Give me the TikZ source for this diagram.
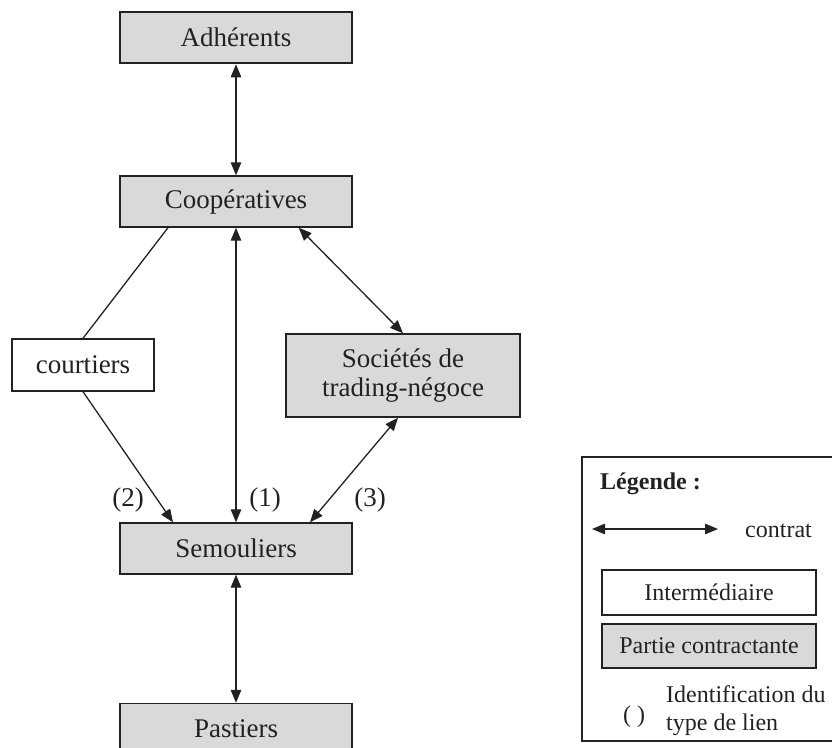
\documentclass[tikz,border=0pt]{standalone}
\usepackage{fontspec}
\setmainfont{Liberation Serif}
\usetikzlibrary{arrows.meta}
\definecolor{boxgray}{HTML}{D9D9D9}
\definecolor{ink}{HTML}{222222}
\tikzset{
  x=1pt, y=-1pt,
  party/.style={draw=ink, fill=boxgray, line width=1.4pt, minimum width=232pt,
    minimum height=51pt, inner sep=0pt, font=\fontsize{27}{31}\selectfont, text=ink},
  broker/.style={draw=ink, fill=white, line width=1.4pt, minimum width=142pt,
    minimum height=52pt, inner sep=0pt, font=\fontsize{27}{31}\selectfont, text=ink},
  linklabel/.style={font=\fontsize{27}{31}\selectfont, text=ink, inner sep=0pt},
  tip/.tip={Triangle[length=13pt,width=10.5pt]},
  contract/.style={draw=ink, line width=1.3pt, {tip}-{tip}},
  oneway/.style={draw=ink, line width=1.3pt, -{tip}},
  plain/.style={draw=ink, line width=1.3pt},
  legtext/.style={font=\fontsize{24}{28}\selectfont, text=ink, inner sep=0pt},
}
\begin{document}
\begin{tikzpicture}
\useasboundingbox (0,0) rectangle (832,747);
\clip (0,0) rectangle (832,747);

% actors of the chain
\node[party, line width=2.6pt] (adh) at (236,37.5) {Adhérents};
\node[party] (coop) at (236,201.5) {Coopératives};
\node[broker] (court) at (83,365) {courtiers};
\node[party, minimum width=234pt, minimum height=83pt, align=center] (soc) at (403,375.5)
  {Sociétés de\\[-2pt]trading-négoce};
\node[party] (sem) at (236,548.5) {Semouliers};
\node[party] (past) at (236,729) {Pastiers};

% contracts and links
\draw[contract] (adh.south) -- (coop.north);
\draw[contract] (coop.south) -- (sem.north);
\coordinate (c1) at ([xshift=-54pt]coop.south east);
\draw[contract] (c1) -- (soc.north);
\coordinate (s1) at ([xshift=-5pt]soc.south);
\coordinate (m3) at ([xshift=74pt]sem.north);
\draw[contract] (s1) -- (m3);
\coordinate (c2) at ([xshift=-68pt]coop.south);
\draw[plain] (c2) -- (court.north);
\coordinate (m2) at ([xshift=-63pt]sem.north);
\draw[oneway] (court.south) -- (m2);
\draw[contract] (sem.south) -- (past.north);

% link type labels
\node[linklabel] (l2) at (128,500) {(2)};
\node[linklabel] (l1) at (265,500) {(1)};
\node[linklabel] (l3) at (370,500) {(3)};

% legend
\draw[draw=ink, line width=2.6pt] (582,457) rectangle (840,741);
\node[legtext, font=\fontsize{24}{28}\selectfont\bfseries, anchor=west] (legt) at (600,484) {Légende :};
\coordinate (la) at (592,529);
\coordinate (lb) at (718,529);
\draw[contract] (la) -- (lb);
\node[legtext, anchor=west] (lc) at (745,531) {contrat};
\node[broker, minimum width=214pt, minimum height=45pt, font=\fontsize{24}{28}\selectfont] (li) at (709,592.5) {Intermédiaire};
\node[party, minimum width=214pt, minimum height=44pt, font=\fontsize{24}{28}\selectfont] (lp) at (709,646) {Partie contractante};
\node[legtext] (lpar) at (634,717) {(\hspace{6pt})};
\node[legtext, anchor=west, align=left] (lid) at (666,711) {Identification du\\[0pt]type de lien};
\end{tikzpicture}
\end{document}
